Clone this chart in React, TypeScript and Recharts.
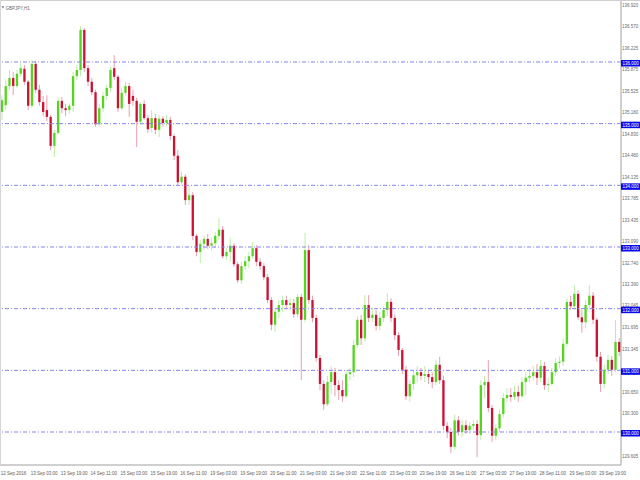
import React from 'react';
import { ComposedChart, Bar, XAxis, YAxis, ReferenceLine } from 'recharts';

// GBPJPY candles (2-hour aggregation)
const opens = [
  135.19, 135.30, 135.61, 135.74, 135.61, 135.81, 135.89, 135.68, 135.29, 135.97,
  135.55, 135.35, 135.22, 135.11, 134.64, 134.85, 135.37, 135.25, 135.22, 135.29,
  135.77, 135.87, 136.52, 135.90, 135.68, 135.51, 134.99, 135.25, 135.45, 135.58,
  135.90, 135.76, 135.25, 135.50, 135.61, 135.45, 135.37, 135.03, 135.32, 135.09,
  134.93, 135.09, 134.90, 135.08, 135.01, 135.06, 134.80, 134.48, 134.05, 134.14,
  133.76, 133.84, 133.18, 132.92, 133.05, 133.13, 133.02, 133.06, 133.18, 133.28,
  132.85, 132.92, 133.02, 132.72, 132.46, 132.69, 132.77, 132.85, 132.98, 132.76,
  132.69, 132.51, 132.14, 131.74, 131.95, 132.06, 132.14, 132.06, 132.09, 131.91,
  132.19, 131.82, 132.95, 132.14, 131.85, 131.20, 130.78, 130.45, 130.81, 130.97,
  130.76, 130.68, 130.58, 130.94, 130.97, 131.41, 131.82, 131.52, 132.06, 131.85,
  131.90, 131.72, 131.85, 131.98, 132.11, 131.85, 131.57, 131.33, 131.01, 130.58,
  130.78, 130.92, 130.97, 130.91, 130.94, 130.89, 130.81, 131.09, 130.84, 130.10,
  130.00, 129.76, 130.19, 130.00, 130.11, 130.03, 130.10, 130.13, 129.95, 130.76,
  130.81, 130.39, 129.94, 130.06, 130.29, 130.55, 130.60, 130.57, 130.65, 130.58,
  130.81, 130.88, 130.91, 130.97, 130.88, 131.07, 130.76, 130.78, 130.97, 131.12,
  131.14, 131.43, 132.11, 132.04, 132.24, 131.86, 131.78, 132.06, 132.21, 131.82,
  131.22, 130.78, 131.01, 131.17, 131.01, 131.46,
];
const highs = [
  135.46, 135.71, 135.87, 135.84, 135.87, 135.98, 135.95, 135.71, 136.03, 136.02,
  135.63, 135.45, 135.46, 135.14, 134.90, 135.42, 135.43, 135.32, 135.33, 135.84,
  135.95, 136.58, 136.55, 135.95, 135.74, 135.55, 135.32, 135.51, 135.63, 135.93,
  136.11, 135.79, 135.58, 135.68, 135.66, 135.55, 135.42, 135.35, 135.38, 135.14,
  135.22, 135.16, 135.14, 135.12, 135.14, 135.11, 134.83, 134.57, 134.22, 134.18,
  133.99, 133.89, 133.21, 133.11, 133.19, 133.21, 133.15, 133.24, 133.47, 133.34,
  132.98, 133.15, 133.06, 132.76, 132.76, 132.85, 132.92, 133.08, 133.03, 132.82,
  132.74, 132.56, 132.19, 132.01, 132.14, 132.21, 132.21, 132.17, 132.16, 132.24,
  132.24, 133.23, 133.03, 132.21, 131.90, 131.25, 130.84, 130.91, 131.07, 131.04,
  130.84, 130.84, 131.01, 131.04, 131.49, 131.88, 131.90, 132.22, 132.22, 132.01,
  131.98, 131.95, 132.04, 132.25, 132.17, 131.91, 131.62, 131.36, 131.07, 130.84,
  131.01, 131.07, 131.04, 131.07, 131.01, 130.97, 131.17, 131.22, 130.91, 130.16,
  130.06, 130.28, 130.26, 130.19, 130.19, 130.16, 130.19, 130.19, 130.84, 130.91,
  131.17, 130.44, 130.13, 130.36, 130.63, 130.71, 130.71, 130.75, 130.75, 130.89,
  130.97, 131.01, 131.07, 131.10, 131.17, 131.14, 130.88, 131.04, 131.20, 131.23,
  131.52, 132.17, 132.21, 132.38, 132.30, 131.98, 132.14, 132.38, 132.27, 131.85,
  131.30, 131.09, 131.25, 131.23, 131.82, 131.52,
];
const lows = [
  135.06, 135.22, 135.55, 135.46, 135.58, 135.76, 135.63, 135.22, 135.25, 135.50,
  135.29, 135.12, 135.04, 134.57, 134.46, 134.82, 135.17, 135.12, 135.16, 135.19,
  135.71, 135.77, 135.84, 135.61, 135.46, 134.95, 134.95, 135.19, 135.38, 135.51,
  135.71, 135.19, 135.22, 135.45, 135.11, 135.29, 134.62, 134.98, 135.06, 134.85,
  134.86, 134.83, 134.78, 134.95, 134.96, 134.73, 134.41, 133.99, 134.01, 133.68,
  133.68, 133.11, 132.85, 132.74, 132.95, 132.97, 132.95, 132.98, 133.11, 132.81,
  132.79, 132.76, 132.68, 132.42, 132.40, 132.63, 132.66, 132.81, 132.69, 132.63,
  132.46, 132.09, 131.65, 131.62, 131.85, 131.95, 132.01, 131.98, 131.85, 131.86,
  130.84, 131.78, 132.08, 131.78, 131.14, 130.68, 130.36, 130.42, 130.62, 130.58,
  130.52, 130.49, 130.55, 130.84, 130.89, 131.36, 131.41, 131.46, 131.78, 131.78,
  131.65, 131.65, 131.78, 131.88, 131.78, 131.49, 131.23, 130.94, 130.52, 130.49,
  130.68, 130.81, 130.84, 130.81, 130.78, 130.71, 130.76, 130.78, 130.03, 129.90,
  129.66, 129.71, 129.94, 129.92, 129.97, 129.97, 130.03, 129.59, 129.87, 130.55,
  130.32, 129.84, 129.87, 130.00, 130.23, 130.49, 130.49, 130.52, 130.49, 130.55,
  130.60, 130.81, 130.84, 130.76, 130.81, 130.68, 130.65, 130.75, 130.91, 131.04,
  131.07, 131.39, 131.98, 131.98, 131.82, 131.61, 131.69, 131.98, 131.75, 131.14,
  130.65, 130.71, 130.94, 130.91, 130.97, 131.23,
];
const closes = [
  135.38, 135.61, 135.74, 135.61, 135.81, 135.90, 135.68, 135.29, 135.97, 135.55,
  135.35, 135.19, 135.11, 134.64, 134.85, 135.37, 135.25, 135.22, 135.29, 135.77,
  135.87, 136.52, 135.90, 135.68, 135.51, 134.99, 135.25, 135.45, 135.58, 135.87,
  135.76, 135.25, 135.50, 135.61, 135.32, 135.37, 135.03, 135.32, 135.09, 134.91,
  135.09, 134.90, 135.08, 135.01, 135.06, 134.80, 134.48, 134.05, 134.14, 133.76,
  133.84, 133.18, 132.92, 133.05, 133.13, 133.02, 133.06, 133.18, 133.28, 132.85,
  132.92, 133.02, 132.72, 132.46, 132.69, 132.77, 132.85, 132.98, 132.76, 132.69,
  132.51, 132.14, 131.74, 131.95, 132.06, 132.14, 132.06, 132.09, 131.91, 132.19,
  131.82, 132.95, 132.14, 131.85, 131.20, 130.78, 130.45, 130.81, 130.97, 130.76,
  130.68, 130.58, 130.94, 130.97, 131.41, 131.82, 131.52, 132.06, 131.85, 131.90,
  131.72, 131.85, 131.98, 132.11, 131.85, 131.57, 131.33, 131.01, 130.58, 130.78,
  130.92, 130.97, 130.91, 130.94, 130.89, 130.81, 131.09, 130.84, 130.10, 130.00,
  129.76, 130.19, 130.00, 130.11, 130.03, 130.10, 130.13, 129.95, 130.76, 130.81,
  130.39, 129.94, 130.06, 130.29, 130.55, 130.60, 130.57, 130.65, 130.58, 130.81,
  130.88, 130.91, 130.97, 130.88, 131.07, 130.76, 130.78, 130.97, 131.12, 131.14,
  131.43, 132.11, 132.04, 132.24, 131.86, 131.78, 132.06, 132.21, 131.82, 131.22,
  130.78, 131.01, 131.17, 131.01, 131.46, 131.30,
];

const timeLabels = [
  '12 Sep 2016', '13 Sep 03:00', '13 Sep 19:00', '14 Sep 11:00', '15 Sep 03:00',
  '15 Sep 19:00', '16 Sep 11:00', '19 Sep 03:00', '19 Sep 19:00', '20 Sep 11:00',
  '21 Sep 03:00', '21 Sep 19:00', '22 Sep 11:00', '23 Sep 03:00', '23 Sep 19:00',
  '26 Sep 11:00', '27 Sep 03:00', '27 Sep 19:00', '28 Sep 11:00', '29 Sep 03:00',
  '29 Sep 19:00',
];
const candlesPerLabel = 8;

const priceTicks = [
  136.92, 136.57, 136.225, 135.875, 135.525, 135.18, 134.83, 134.48, 134.135,
  133.785, 133.435, 133.09, 132.74, 132.39, 132.045, 131.695, 131.345, 130.65,
  130.3, 129.605,
];
const levels = [136, 135, 134, 133, 132, 131, 130];
const yDomain = [129.465, 136.989];

const data = opens.map((o, i) => ({
  i,
  o,
  h: highs[i],
  l: lows[i],
  c: closes[i],
  range: [lows[i], highs[i]],
}));
const tickIdx = timeLabels.map((_, k) => k * candlesPerLabel);

const BULL = '#55d420';
const BEAR = '#cc1234';
const FONT = 'Liberation Sans, Arial, sans-serif';
const PLOT_W = 621;
const HALF_BAND = PLOT_W / opens.length / 2;

function Candle(props: any) {
  const { x, y, width, height, payload } = props;
  if (!payload || x == null || y == null) return null;
  const top = Math.min(y, y + height);
  const bot = Math.max(y, y + height);
  const span = payload.h - payload.l;
  const k = span > 0 ? (bot - top) / span : 0;
  const py = (p: number) => top + (payload.h - p) * k;
  const cx = x + width / 2;
  const up = payload.c >= payload.o;
  const col = up ? BULL : BEAR;
  const bw = Math.max(1, width * 0.58);
  const yo = py(payload.o);
  const yc = py(payload.c);
  const bt = Math.min(yo, yc);
  const bh = Math.max(1, Math.abs(yo - yc));
  return (
    <g>
      <line x1={cx} x2={cx} y1={top} y2={bot} stroke={col} strokeOpacity={0.4} strokeWidth={1} />
      <rect x={cx - bw / 2} y={bt} width={bw} height={bh} fill={col} />
    </g>
  );
}

function YTick(props: any) {
  const { x, y, payload } = props;
  const v = payload.value;
  if (levels.includes(v)) {
    return (
      <g>
        <rect x={x - 1} y={y - 2} width={19} height={6.5} fill="#0a0ae6" />
        <text x={x + 0.4} y={y + 3} fontSize={4.5} fill="#ffffff" fontFamily={FONT}>
          {v.toFixed(3)}
        </text>
      </g>
    );
  }
  return (
    <text x={x} y={y + 1.6} fontSize={4.5} fill="#6a6a6a" fontFamily={FONT}>
      {v.toFixed(3)}
    </text>
  );
}

function XTick(props: any) {
  const { x, y, payload } = props;
  const label = timeLabels[Math.round(payload.value / candlesPerLabel)];
  if (!label) return null;
  return (
    <text x={x - HALF_BAND + 0.8} y={y + 10} fontSize={4.5} fill="#5e5e5e" fontFamily={FONT}>
      {label}
    </text>
  );
}

export default function App() {
  return (
    <div style={{ position: 'absolute', left: 0, top: 0, width: 640, height: 480, background: '#ffffff' }}>
      <ComposedChart
        width={640}
        height={480}
        data={data}
        margin={{ top: 1, right: 0, bottom: 0, left: 0 }}
        barCategoryGap={0}
        barGap={0}
      >
        <XAxis
          dataKey="i"
          type="category"
          height={15}
          ticks={tickIdx}
          interval={0}
          tickLine={false}
          tickSize={0}
          tickMargin={0}
          axisLine={{ stroke: '#a0a0a0' }}
          tick={<XTick />}
        />
        <YAxis
          orientation="right"
          type="number"
          width={19}
          domain={yDomain}
          allowDataOverflow
          ticks={[...priceTicks, ...levels]}
          interval={0}
          tickLine={false}
          tickSize={0}
          tickMargin={1}
          axisLine={{ stroke: '#a0a0a0' }}
          tick={<YTick />}
        />
        {levels.map((lv) => (
          <ReferenceLine key={lv} y={lv} stroke="#8585f0" strokeDasharray="4 2 1 2" strokeWidth={1} />
        ))}
        <Bar dataKey="range" shape={<Candle />} isAnimationActive={false} />
      </ComposedChart>
      <svg
        width={640}
        height={480}
        style={{ position: 'absolute', left: 0, top: 0, pointerEvents: 'none' }}
      >
        <line x1={0} x2={640} y1={0.5} y2={0.5} stroke="#cfcfcf" />
        <line x1={0.5} x2={0.5} y1={0} y2={465} stroke="#d6d6d6" />
        <polygon points="1.5,6.3 4.2,6.3 2.85,8.6" fill="#777777" />
        <text x={5.5} y={9.5} fontSize={4.5} fill="#6a6a6a" fontFamily={FONT}>
          GBPJPY,H1
        </text>
      </svg>
    </div>
  );
}
